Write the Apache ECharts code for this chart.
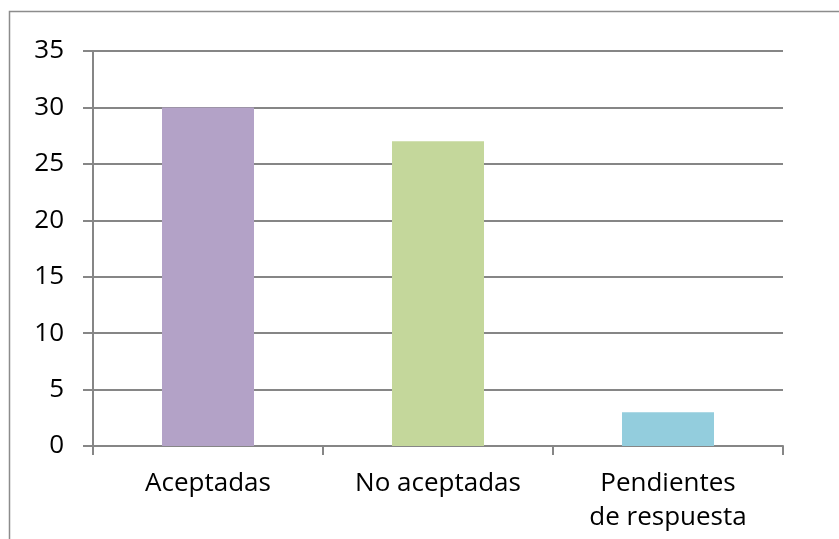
<!DOCTYPE html>
<html>
<head>
<meta charset="utf-8">
<script src="https://cdn.jsdelivr.net/npm/echarts@6/dist/echarts.min.js"></script>
<style>html,body{margin:0;padding:0;background:#fff;}#c{width:839px;height:539px;}</style>
</head>
<body>
<div id="c"></div>
<script>
var categories = ['Aceptadas', 'No aceptadas', 'Pendientes\nde respuesta'];
var values = [30, 27, 3];
var colors = ['#B3A2C7', '#C4D79B', '#93CDDD'];
var yTicks = { min: 0, max: 35, interval: 5 };

var chart = echarts.init(document.getElementById('c'));
var FONT = '"Open Sans", sans-serif';
chart.setOption({
  animation: false,
  backgroundColor: '#fff',
  graphic: [{
    type: 'rect',
    shape: { x: 9.5, y: 11.5, width: 900, height: 900 },
    style: { fill: 'none', stroke: '#8c8c8c', lineWidth: 1.5 },
    silent: true
  }],
  grid: { left: 93, right: 56, top: 51, bottom: 93, containLabel: false },
  xAxis: {
    type: 'category',
    data: categories,
    axisLine: { lineStyle: { color: '#868686', width: 2 } },
    axisTick: { show: true, length: 9, lineStyle: { color: '#868686', width: 2 } },
    axisLabel: { color: '#000', fontFamily: FONT, fontSize: 26, lineHeight: 34, margin: 21, interval: 0 }
  },
  yAxis: {
    type: 'value',
    min: yTicks.min, max: yTicks.max, interval: yTicks.interval,
    axisLine: { show: true, lineStyle: { color: '#868686', width: 2 } },
    axisTick: { show: true, length: 10, lineStyle: { color: '#868686', width: 2 } },
    axisLabel: { color: '#000', fontFamily: FONT, fontSize: 26, margin: 29 },
    splitLine: { show: true, lineStyle: { color: '#868686', width: 2 } }
  },
  series: [{
    type: 'bar',
    barWidth: '40%',
    data: values.map(function (v, i) { return { value: v, itemStyle: { color: colors[i] } }; })
  }]
});
</script>
</body>
</html>
